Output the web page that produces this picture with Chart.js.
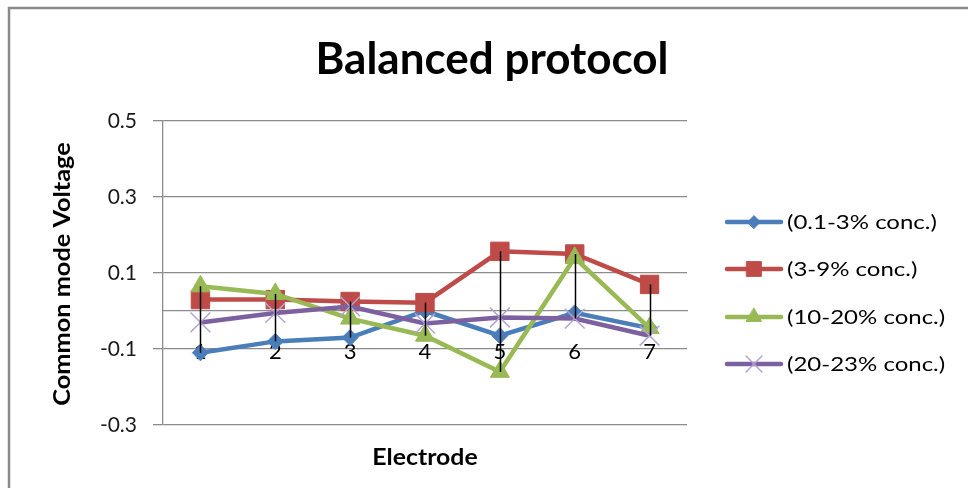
<!DOCTYPE html>
<html>
<head>
<meta charset="utf-8">
<title>Balanced protocol</title>
<script src="https://cdn.jsdelivr.net/npm/chart.js@4.4.1/dist/chart.umd.min.js"></script>
<style>
  html, body { margin: 0; padding: 0; background: #ffffff; }
  #wrap { position: relative; width: 968px; height: 488px; }
  canvas { display: block; }
</style>
</head>
<body>
<div id="wrap"><canvas id="chart" width="968" height="488"></canvas></div>
<script>
// Electrode positions along the horizontal axis
const electrodes = ['1', '2', '3', '4', '5', '6', '7'];

// Common mode voltage per concentration band
const conc01to3 = [-0.11, -0.08, -0.07, 0.0, -0.065, -0.005, -0.045];
const conc3to9 = [0.03, 0.03, 0.025, 0.022, 0.157, 0.15, 0.07];
const conc10to20 = [0.065, 0.045, -0.02, -0.065, -0.16, 0.14, -0.045];
const conc20to23 = [-0.03, -0.005, 0.012, -0.033, -0.017, -0.02, -0.065];

const seriesNames = ['(0.1-3% conc.)', '(3-9% conc.)', '(10-20% conc.)', '(20-23% conc.)'];

// Vertical axis range and tick spacing
const yMin = -0.3;
const yMax = 0.5;
const yStep = 0.2;

const FONT = 'Lato, "Open Sans", sans-serif';

const styles = [
  { line: '#4A7EBB', fill: '#4A7EBB', point: 'rectRot', radius: 8, border: 1 },
  { line: '#BE4B48', fill: '#BE4B48', point: 'rect', radius: 13, border: 1 },
  { line: '#98B954', fill: '#98B954', point: 'triangle', radius: 11, border: 1 },
  { line: '#7D60A0', fill: '#B4A3D3', point: 'crossRot', radius: 14, border: 1.5 }
];

const seriesData = [conc01to3, conc3to9, conc10to20, conc20to23];

const datasets = seriesData.map((values, i) => ({
  label: seriesNames[i],
  data: values,
  borderColor: styles[i].line,
  backgroundColor: styles[i].fill,
  borderWidth: 4.5,
  pointStyle: styles[i].point,
  pointRadius: styles[i].radius,
  pointHoverRadius: styles[i].radius,
  pointBackgroundColor: styles[i].fill,
  pointBorderColor: styles[i].fill,
  pointBorderWidth: styles[i].border,
  tension: 0,
  // later series sit on top of earlier ones
  order: seriesData.length - i
}));

// Draws text with a horizontal stretch factor along its own direction
function stretchedText(ctx, text, x, y, sx, align) {
  ctx.save();
  ctx.translate(x, y);
  ctx.scale(sx, 1);
  ctx.textAlign = align;
  ctx.fillText(text, 0, 0);
  ctx.restore();
}

// Chart frame: thin grey border along the top and left edges
const framePlugin = {
  id: 'frame',
  beforeDraw(chart) {
    const ctx = chart.ctx;
    ctx.save();
    ctx.strokeStyle = '#8a8a8a';
    ctx.lineWidth = 2.5;
    ctx.beginPath();
    ctx.moveTo(9, chart.height);
    ctx.lineTo(9, 8);
    ctx.lineTo(chart.width, 8);
    ctx.stroke();
    ctx.restore();
  }
};

// High-low lines: join the highest and lowest series value at each electrode
const highLowPlugin = {
  id: 'highLow',
  afterDatasetsDraw(chart) {
    const ctx = chart.ctx;
    const xs = chart.scales.x;
    const ys = chart.scales.y;
    ctx.save();
    ctx.strokeStyle = '#000000';
    ctx.lineWidth = 1.5;
    electrodes.forEach((_, idx) => {
      const vals = seriesData.map(s => s[idx]);
      const hi = Math.max(...vals);
      const lo = Math.min(...vals);
      const x = Math.round(xs.getPixelForValue(idx)) + 0.5;
      ctx.beginPath();
      ctx.moveTo(x, ys.getPixelForValue(hi));
      ctx.lineTo(x, ys.getPixelForValue(lo));
      ctx.stroke();
    });
    ctx.restore();
  }
};

// Title, axis titles and the legend on the right
const decorPlugin = {
  id: 'decor',
  afterDraw(chart) {
    const ctx = chart.ctx;
    const area = chart.chartArea;
    ctx.save();
    ctx.fillStyle = '#000000';
    ctx.textBaseline = 'alphabetic';
    ctx.font = 'bold 44px ' + FONT;
    stretchedText(ctx, 'Balanced protocol', 492, 74, 1.0, 'center');

    ctx.font = 'bold 23px ' + FONT;
    stretchedText(ctx, 'Electrode', (area.left + area.right) / 2, 465, 1.08, 'center');

    // vertical axis title, rotated
    ctx.save();
    ctx.translate(70, (area.top + area.bottom) / 2 + 1);
    ctx.rotate(-Math.PI / 2);
    ctx.font = 'bold 22px ' + FONT;
    ctx.scale(1.15, 1);
    ctx.textAlign = 'center';
    ctx.fillText('Common mode Voltage', 0, 0);
    ctx.restore();

    const legendX = 727;
    const legendW = 54;
    const legendY = [222, 269, 317, 364];
    datasets.forEach((ds, i) => {
      const y = legendY[i];
      ctx.strokeStyle = ds.borderColor;
      ctx.lineWidth = 4.5;
      ctx.lineCap = 'round';
      ctx.beginPath();
      ctx.moveTo(legendX, y);
      ctx.lineTo(legendX + legendW, y);
      ctx.stroke();
      ctx.fillStyle = ds.pointBackgroundColor;
      ctx.strokeStyle = ds.pointBorderColor;
      ctx.lineWidth = ds.pointBorderWidth;
      Chart.helpers.drawPoint(ctx, {
        pointStyle: ds.pointStyle,
        radius: ds.pointRadius * 0.8,
        rotation: 0,
        borderWidth: ds.pointBorderWidth
      }, legendX + legendW / 2, y);
      ctx.fillStyle = '#000000';
      ctx.textBaseline = 'middle';
      ctx.font = '20px ' + FONT;
      stretchedText(ctx, ds.label, legendX + legendW + 6, y + 1, 1.2, 'left');
    });
    ctx.restore();
  }
};

new Chart(document.getElementById('chart'), {
  type: 'line',
  data: { labels: electrodes, datasets },
  plugins: [framePlugin, highLowPlugin, decorPlugin],
  options: {
    responsive: false,
    animation: false,
    events: [],
    layout: { padding: { top: 121, right: 281, bottom: 63, left: 0 } },
    plugins: {
      legend: { display: false },
      title: { display: false },
      tooltip: { enabled: false }
    },
    scales: {
      x: {
        type: 'category',
        position: { y: 0 },
        offset: true,
        grid: { display: false, drawTicks: false },
        border: { display: true, color: '#8c8c8c', width: 1.3 },
        ticks: {
          color: '#000000',
          padding: 28,
          font: { family: FONT, size: 22 },
          maxRotation: 0
        }
      },
      y: {
        min: yMin,
        max: yMax,
        afterFit(scale) { scale.width = 163; },
        grid: {
          color: '#8c8c8c',
          lineWidth: 1.3,
          drawTicks: true,
          tickLength: 10,
          tickColor: '#8c8c8c'
        },
        border: { display: true, color: '#8c8c8c', width: 1.3 },
        ticks: {
          stepSize: yStep,
          color: '#1a1a1a',
          padding: 16,
          font: { family: FONT, size: 21 },
          callback: v => Number(v).toFixed(1)
        },
        title: { display: false }
      }
    }
  }
});
</script>
</body>
</html>
